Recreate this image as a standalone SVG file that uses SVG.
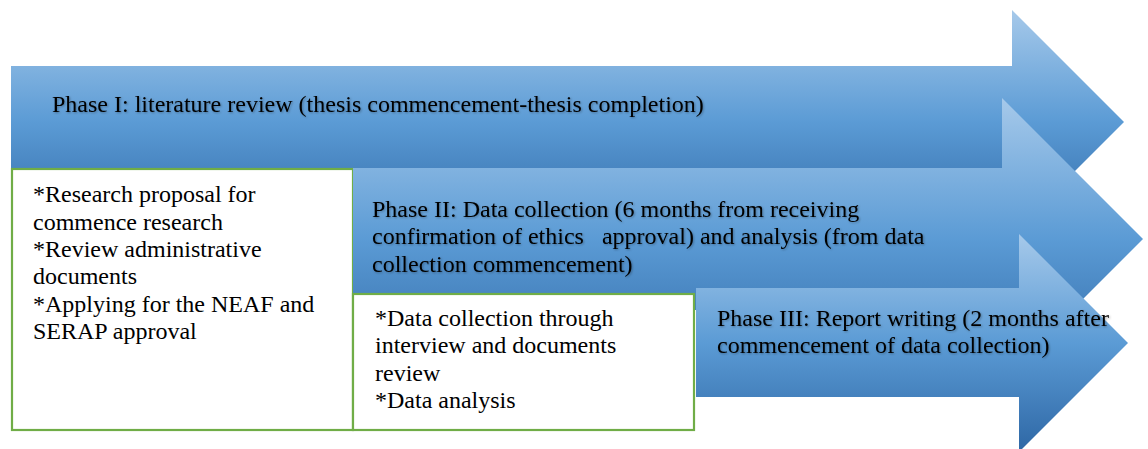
<svg xmlns="http://www.w3.org/2000/svg" width="1148" height="449" viewBox="0 0 1148 449">
<style>
.arrow{fill:url(#blueGrad);}
.box{fill:#ffffff;stroke:#70ad47;stroke-width:2.2;}
.t{font-family:"Liberation Serif","Times New Roman",serif;font-size:24px;fill:#000;white-space:pre;}
.ts{filter:url(#shadow);}
</style>
<defs>
<linearGradient id="blueGrad" x1="0" y1="0" x2="0" y2="1">
<stop offset="0" stop-color="#a6c9ea"/>
<stop offset="0.5" stop-color="#5b9bd5"/>
<stop offset="1" stop-color="#2e67a5"/>
</linearGradient>
<filter id="shadow" x="-5%" y="-30%" width="110%" height="160%">
<feDropShadow dx="1" dy="1" stdDeviation="1" flood-color="#000" flood-opacity="0.3"/>
</filter>
</defs>
<g id="phase1">
<path class="arrow" d="M11,66 H1012 V10 L1124,122 L1012,234 V178 H11 Z"/>
<text class="t ts" x="52" y="112">Phase I: literature review (thesis commencement-thesis completion)</text>
</g>
<g id="box1">
<rect class="box" x="12" y="169" width="341" height="261"/>
<text class="t" x="33" y="202">*Research proposal for</text>
<text class="t" x="33" y="230">commence research</text>
<text class="t" x="33" y="257">*Review administrative</text>
<text class="t" x="33" y="284">documents</text>
<text class="t" x="33" y="312">*Applying for the NEAF and</text>
<text class="t" x="33" y="339">SERAP approval</text>
</g>
<g id="phase2">
<path class="arrow" d="M353,168 H1002 V98 L1143,239 L1002,380 V310 H353 Z"/>
<text class="t ts" x="372" y="217">Phase II: Data collection (6 months from receiving</text>
<text class="t ts" x="372" y="244">confirmation of ethics   approval) and analysis (from data</text>
<text class="t ts" x="372" y="272">collection commencement)</text>
</g>
<g id="box2">
<rect class="box" x="353" y="294" width="341" height="136"/>
<text class="t" x="375" y="326">*Data collection through</text>
<text class="t" x="375" y="353">interview and documents</text>
<text class="t" x="375" y="381">review</text>
<text class="t" x="375" y="408">*Data analysis</text>
</g>
<g id="phase3">
<path class="arrow" d="M696,288 H1019 V234 L1128,343 L1019,452 V397 H696 Z"/>
<text class="t ts" x="717" y="326">Phase III: Report writing (2 months after</text>
<text class="t ts" x="717" y="353">commencement of data collection)</text>
</g>
<g id="connectors"></g>
</svg>
